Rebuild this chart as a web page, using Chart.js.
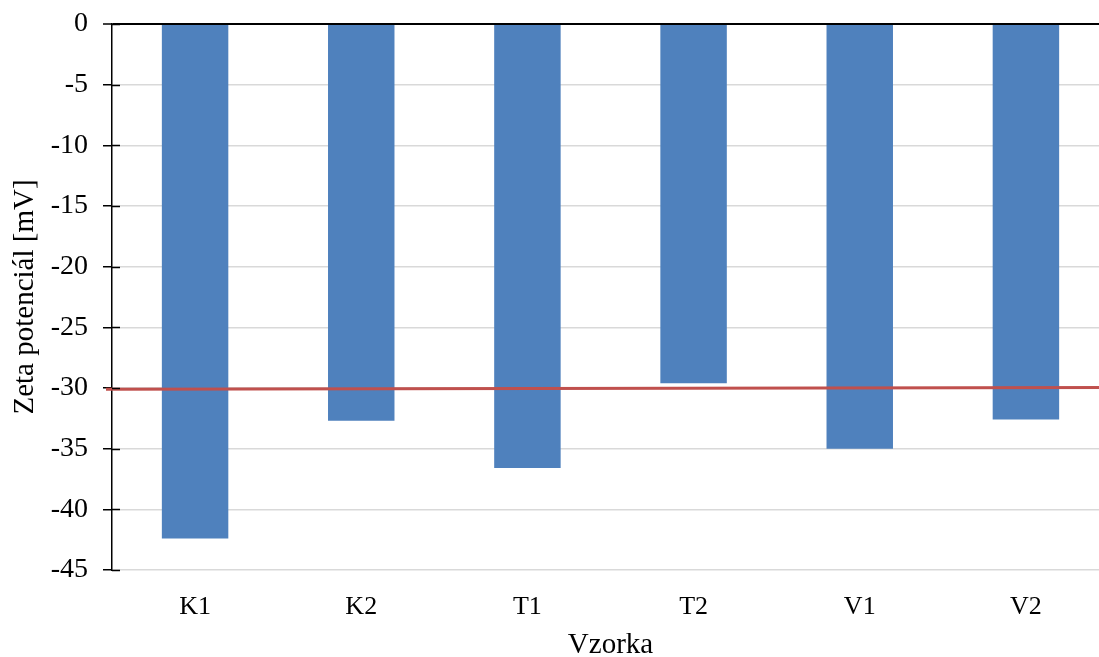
<!DOCTYPE html>
<html>
<head>
<meta charset="utf-8">
<script src="https://cdn.jsdelivr.net/npm/chart.js@4/dist/chart.umd.min.js"></script>
<style>
  html, body { margin: 0; padding: 0; background: #fff; overflow: hidden; }
  #wrap { width: 1099px; height: 657px; overflow: hidden; }
</style>
</head>
<body>
<div id="wrap"><canvas id="zetaChart" width="1109" height="657"></canvas></div>
<script>
// Data
const samples = ['K1', 'K2', 'T1', 'T2', 'V1', 'V2'];
const zetaValues = [-42.4, -32.7, -36.6, -29.6, -35.0, -32.6];
const limitLine = [-30.1, -29.95]; // red reference line, start / end value
const yTicks = [0, -5, -10, -15, -20, -25, -30, -35, -40, -45];

const serif = "'Liberation Serif', 'Times New Roman', serif";

// red stability line, drawn across the whole width like in the source
const limitLinePlugin = {
    id: 'limitLine',
    afterDatasetsDraw(chart) {
        const y = chart.scales.y;
        const ctx = chart.ctx;
        ctx.save();
        ctx.strokeStyle = '#c0504d';
        ctx.lineWidth = 3;
        ctx.beginPath();
        ctx.moveTo(chart.chartArea.left - 6, y.getPixelForValue(limitLine[0]));
        ctx.lineTo(chart.width, y.getPixelForValue(limitLine[1]));
        ctx.stroke();
        ctx.restore();
    }
};

// tick marks crossing the axis (inside part)
const crossTicks = {
    id: 'crossTicks',
    afterDraw(chart) {
        const y = chart.scales.y;
        const ctx = chart.ctx;
        const left = chart.chartArea.left;
        ctx.save();
        ctx.strokeStyle = '#000';
        ctx.lineWidth = 1.5;
        y.ticks.forEach(t => {
            const py = Math.round(y.getPixelForValue(t.value)) + 0.5;
            ctx.beginPath();
            ctx.moveTo(left, py);
            ctx.lineTo(left + 8, py);
            ctx.stroke();
        });
        ctx.restore();
    }
};

new Chart(document.getElementById('zetaChart'), {
    type: 'bar',
    data: {
        labels: samples,
        datasets: [{
            label: 'Zeta potenciál',
            data: zetaValues,
            backgroundColor: '#4f81bd',
            borderWidth: 0,
            categoryPercentage: 1,
            barPercentage: 0.4
        }]
    },
    options: {
        responsive: false,
        animation: false,
        layout: { padding: { top: 24, left: 0, right: 0, bottom: 0 } },
        plugins: {
            legend: { display: false },
            tooltip: { enabled: false }
        },
        scales: {
            x: {
                grid: { display: false },
                border: { display: false },
                ticks: {
                    color: '#000',
                    padding: 14,
                    font: { family: serif, size: 26 }
                },
                title: {
                    display: true,
                    text: 'Vzorka',
                    color: '#000',
                    padding: { top: 6, bottom: 0 },
                    font: { family: serif, size: 29, lineHeight: 0.8 }
                },
                afterFit(scale) {
                    scale.height = 87;
                    scale.paddingLeft = 0;
                    scale.paddingRight = 0;
                }
            },
            y: {
                min: -45,
                max: 0,
                afterBuildTicks(scale) {
                    scale.ticks = yTicks.map(v => ({ value: v }));
                },
                grid: {
                    color: ctx => ctx.tick && ctx.tick.value === 0 ? '#000' : '#d9d9d9',
                    lineWidth: ctx => ctx.tick && ctx.tick.value === 0 ? 2 : 1.5,
                    tickColor: '#000',
                    tickLength: 9,
                    tickWidth: 1.5
                },
                border: { display: true, color: '#000', width: 1.5 },
                ticks: {
                    color: '#000',
                    padding: 15,
                    font: { family: serif, size: 28 }
                },
                title: {
                    display: true,
                    text: 'Zeta potenciál [mV]',
                    color: '#000',
                    padding: { top: 9, bottom: 0 },
                    font: { family: serif, size: 29, lineHeight: 1.1 }
                },
                afterFit(scale) {
                    scale.width = 112;
                    scale.paddingTop = 0;
                    scale.paddingBottom = 0;
                }
            }
        }
    },
    plugins: [limitLinePlugin, crossTicks]
});
</script>
</body>
</html>
